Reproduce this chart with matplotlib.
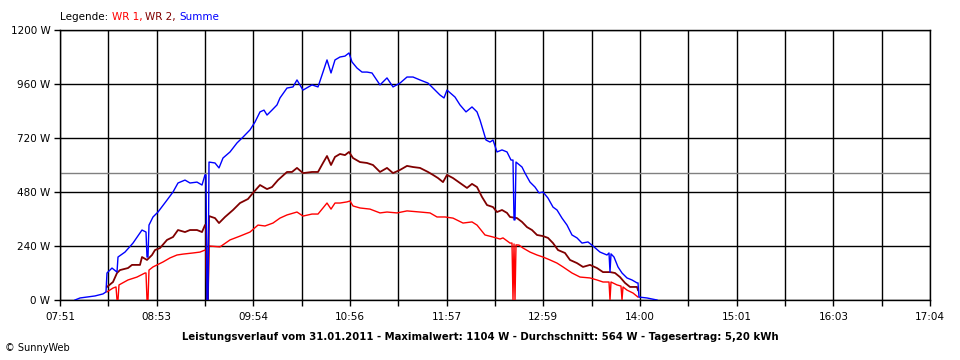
import matplotlib
matplotlib.use('Agg')
import matplotlib.pyplot as plt
import numpy as np
import pandas as pd

wr1_zeit = [
    '08:20:52', '08:24:41', '08:26:36', '08:27:14', '08:27:52', '08:28:30',
    '08:34:13', '08:39:57', '08:45:02', '08:45:40', '08:46:18', '08:46:56',
    '08:47:34', '08:50:07', '08:56:28', '09:00:55', '09:05:22', '09:09:11',
    '09:15:32', '09:19:59', '09:23:10', '09:23:48', '09:24:26', '09:25:04',
    '09:25:43', '09:32:42', '09:39:04', '09:45:25', '09:51:46', '09:56:51',
    '10:01:18', '10:06:23', '10:10:50', '10:15:17', '10:21:38', '10:25:28',
    '10:31:11', '10:35:00', '10:38:10', '10:40:43', '10:43:16', '10:45:48',
    '10:48:59', '10:53:26', '10:55:20', '10:57:14', '11:01:41', '11:08:03',
    '11:14:24', '11:18:51', '11:25:13', '11:31:34', '11:39:50', '11:46:11',
    '11:50:38', '11:55:43', '12:00:48', '12:07:10', '12:12:53', '12:16:04',
    '12:21:08', '12:26:14', '12:30:41', '12:32:35', '12:37:02', '12:38:18',
    '12:38:56', '12:39:35', '12:40:13', '12:40:51', '12:42:45', '12:45:18',
    '12:49:45', '12:54:12', '12:58:01', '13:02:28', '13:06:55', '13:10:43',
    '13:16:26', '13:21:32', '13:27:53', '13:32:20', '13:36:09', '13:39:58',
    '13:40:36', '13:41:14', '13:45:03', '13:47:35', '13:48:14', '13:48:52',
    '13:51:24', '13:55:13', '13:58:24',
]
wr1_watt = [
    36, 53, 58, 0, 0, 67,
    89, 102, 120, 120, 0, 0,
    133, 147, 169, 187, 200, 204,
    209, 213, 222, 222, 0, 0,
    240, 236, 267, 284, 302, 333,
    329, 342, 364, 378, 391, 373,
    382, 382, 409, 431, 404, 431,
    431, 436, 440, 418, 409, 404,
    387, 391, 387, 396, 391, 387,
    369, 369, 364, 342, 347, 333,
    289, 280, 271, 276, 253, 253,
    0, 249, 0, 245, 244, 231,
    213, 200, 191, 178, 164, 147,
    120, 102, 98, 89, 80, 80,
    0, 80, 67, 62, 0, 58,
    44, 31, 13,
]

wr2_zeit = [
    '08:20:52', '08:24:41', '08:27:14', '08:29:08', '08:34:13', '08:36:46',
    '08:41:51', '08:43:07', '08:46:18', '08:49:29', '08:51:23', '08:54:34',
    '08:59:01', '09:02:50', '09:06:00', '09:10:27', '09:13:38', '09:18:05',
    '09:21:16', '09:23:10', '09:23:48', '09:24:26', '09:25:04', '09:25:43',
    '09:29:31', '09:32:04', '09:35:53', '09:40:58', '09:45:25', '09:50:30',
    '09:53:41', '09:58:08', '10:02:35', '10:05:45', '10:09:34', '10:15:17',
    '10:18:28', '10:21:38', '10:25:28', '10:31:11', '10:35:00', '10:38:10',
    '10:40:43', '10:43:16', '10:45:48', '10:48:59', '10:52:09', '10:54:42',
    '10:57:14', '11:01:41', '11:06:08', '11:09:57', '11:14:24', '11:18:51',
    '11:22:40', '11:27:07', '11:31:34', '11:35:23', '11:39:50', '11:44:55',
    '11:48:05', '11:51:16', '11:54:27', '11:56:59', '12:00:48', '12:05:15',
    '12:09:42', '12:12:53', '12:16:04', '12:19:14', '12:22:25', '12:26:14',
    '12:28:46', '12:31:57', '12:35:08', '12:37:02', '12:41:29', '12:44:40',
    '12:47:50', '12:51:01', '12:54:12', '12:58:01', '13:01:11', '13:04:22',
    '13:07:33', '13:11:59', '13:15:10', '13:19:37', '13:23:26', '13:27:53',
    '13:32:20', '13:36:09', '13:40:36', '13:43:47', '13:46:57', '13:50:08',
    '13:53:19', '13:57:46', '13:58:24',
]
wr2_watt = [
    58, 80, 120, 133, 142, 156,
    156, 191, 178, 200, 222, 231,
    267, 280, 311, 302, 311, 311,
    302, 333, 333, 0, 0, 373,
    364, 342, 369, 400, 431, 449,
    476, 511, 493, 502, 533, 569,
    569, 587, 564, 569, 569, 609,
    640, 600, 636, 649, 644, 658,
    631, 613, 609, 600, 569, 587,
    564, 578, 596, 591, 587, 569,
    556, 542, 524, 556, 542, 520,
    498, 516, 502, 458, 422, 413,
    391, 400, 387, 369, 364, 347,
    324, 311, 289, 284, 276, 253,
    222, 209, 178, 164, 147, 156,
    142, 124, 124, 120, 102, 76,
    58, 58, 44,
]

summe_zeit = [
    '08:00:32', '08:03:43', '08:13:15', '08:18:20', '08:20:14', '08:20:52',
    '08:24:03', '08:27:14', '08:27:52', '08:32:19', '08:37:24', '08:43:07',
    '08:45:40', '08:46:18', '08:46:56', '08:47:34', '08:50:07', '08:53:17',
    '08:59:01', '09:02:50', '09:06:00', '09:10:27', '09:13:38', '09:18:05',
    '09:21:16', '09:23:10', '09:23:48', '09:24:26', '09:25:04', '09:25:43',
    '09:29:31', '09:32:04', '09:34:36', '09:39:04', '09:43:30', '09:47:19',
    '09:51:46', '09:54:57', '09:58:08', '10:00:40', '10:02:35', '10:05:45',
    '10:08:56', '10:10:50', '10:15:17', '10:19:06', '10:21:38', '10:25:28',
    '10:31:11', '10:35:00', '10:38:10', '10:40:43', '10:43:16', '10:45:48',
    '10:48:59', '10:52:09', '10:54:42', '10:56:36', '10:59:47', '11:02:58',
    '11:06:08', '11:09:19', '11:14:24', '11:18:51', '11:22:40', '11:27:07',
    '11:31:34', '11:35:23', '11:39:50', '11:44:55', '11:48:05', '11:52:32',
    '11:55:05', '11:56:59', '12:02:04', '12:05:15', '12:09:04', '12:12:53',
    '12:16:04', '12:17:58', '12:19:52', '12:21:47', '12:24:19', '12:26:14',
    '12:28:46', '12:31:57', '12:35:08', '12:37:40', '12:38:56', '12:39:35',
    '12:40:13', '12:40:51', '12:44:40', '12:46:34', '12:49:45', '12:52:55',
    '12:55:28', '12:58:01', '13:01:11', '13:04:22', '13:06:55', '13:10:05',
    '13:13:16', '13:16:26', '13:19:37', '13:22:48', '13:26:37', '13:29:47',
    '13:34:14', '13:38:41', '13:39:58', '13:40:36', '13:41:14', '13:43:08',
    '13:45:41', '13:48:14', '13:51:24', '13:54:35', '13:57:46', '13:58:24',
    '13:59:02', '14:04:07', '14:10:28',
]
summe_watt = [
    0, 9, 18, 27, 36, 120,
    142, 124, 191, 213, 253, 311,
    302, 191, 191, 333, 369, 391,
    444, 480, 520, 533, 520, 524,
    511, 556, 556, 0, 0, 613,
    609, 587, 631, 658, 698, 724,
    756, 791, 836, 844, 822, 844,
    867, 898, 942, 947, 978, 933,
    956, 947, 1013, 1067, 1009, 1067,
    1080, 1084, 1098, 1058, 1031, 1013,
    1013, 1009, 956, 987, 947, 964,
    991, 991, 978, 964, 942, 911,
    898, 933, 902, 867, 836, 858,
    836, 800, 756, 711, 702, 711,
    658, 667, 658, 622, 622, 356,
    356, 613, 591, 564, 524, 502,
    476, 480, 453, 413, 400, 364,
    333, 289, 276, 253, 258, 240,
    213, 200, 209, 124, 205, 191,
    147, 120, 98, 89, 76, 76,
    13, 9, 0,
]

durchschnitt = 564
x_labels = ['07:51', '08:53', '09:54', '10:56', '11:57',
            '12:59', '14:00', '15:01', '16:03', '17:04']
y_ticks = [0, 240, 480, 720, 960, 1200]
titel = ('Leistungsverlauf vom 31.01.2011 - Maximalwert: 1104 W - '
         'Durchschnitt: 564 W - Tagesertrag: 5,20 kWh')


def minuten(zeiten):
    return pd.to_timedelta(zeiten).total_seconds().to_numpy() / 60.0


plt.rcParams['font.family'] = ['DejaVu Sans']
fig = plt.figure(figsize=(9.6, 3.6), dpi=100)
ax = fig.add_axes([60 / 960, 60 / 360, 870 / 960, 270 / 360])

start = 7 * 60 + 51
ende = 17 * 60 + 4
major = np.linspace(start, ende, len(x_labels))
minor = (major[:-1] + major[1:]) / 2

# Gitter
for xv in np.concatenate([major, minor]):
    ax.axvline(xv, color='black', lw=1.0, zorder=1)
for yv in y_ticks:
    ax.axhline(yv, color='black', lw=1.0, zorder=1)
ax.axhline(durchschnitt, color='#808080', lw=1.0, zorder=1)

ax.plot(minuten(wr1_zeit), wr1_watt, color='#FF0000', lw=1.0, zorder=3)
ax.plot(minuten(wr2_zeit), wr2_watt, color='#800000', lw=1.3, zorder=3)
ax.plot(minuten(summe_zeit), summe_watt, color='#0000FF', lw=1.0, zorder=3)

ax.set_xlim(start, ende)
ax.set_ylim(0, 1200)
ax.set_xticks(major)
ax.set_xticklabels(x_labels)
ax.set_xticks(minor, minor=True)
ax.set_yticks(y_ticks)
ax.set_yticklabels([f'{v} W' for v in y_ticks])
ax.tick_params(axis='both', which='both', direction='out', length=4,
               width=1, color='black', labelsize=7.5, pad=3)
ax.tick_params(axis='x', pad=5)
for s in ax.spines.values():
    s.set_linewidth(1.0)

# Legende oben links
t = fig.text(60 / 960, 1 - 17 / 360, 'Legende: ', fontsize=7.5,
             color='black', va='center')
for txt, col in [('WR 1, ', '#FF0000'), ('WR 2, ', '#800000'),
                 ('Summe', '#0000FF')]:
    t = ax.annotate(txt, xy=(1, 0), xycoords=t, va='bottom', ha='left',
                    fontsize=7.5, color=col)

fig.text(0.5, 1 - 337 / 360, titel, ha='center', va='center',
         fontsize=7.3, fontweight='bold')
fig.text(5 / 960, 1 - 348 / 360, '\u00a9 SunnyWeb', ha='left', va='center',
         fontsize=7)

fig.savefig('out.png', dpi=100)
